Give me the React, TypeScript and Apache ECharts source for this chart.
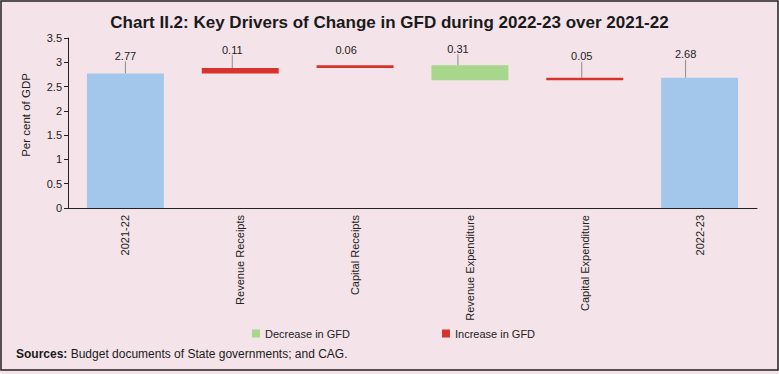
import React, { useEffect, useRef } from 'react';
import * as echarts from 'echarts';

const categories = [
  '2021-22',
  'Revenue Receipts',
  'Capital Receipts',
  'Revenue Expenditure',
  'Capital Expenditure',
  '2022-23',
];
// Level bars (per cent of GDP)
const totals: (number | null)[] = [2.77, null, null, null, null, 2.68];
// Changes that increase GFD
const increase: (number | null)[] = [null, 0.11, 0.06, null, 0.05, null];
// Changes that decrease GFD
const decrease: (number | null)[] = [null, null, null, 0.31, null, null];

const yMin = 0;
const yMax = 3.5;
const yInterval = 0.5;

// invisible base for the floating waterfall pieces
function buildBase(): (number | null)[] {
  let level = 0;
  return categories.map((_, i) => {
    if (totals[i] != null) {
      level = totals[i] as number;
      return 0;
    }
    if (increase[i] != null) {
      const b = level;
      level += increase[i] as number;
      return b;
    }
    if (decrease[i] != null) {
      level -= decrease[i] as number;
      return level;
    }
    return 0;
  });
}

// label displacement (layout only)
const labelShift: [number, number][] = [
  [0, -7],
  [-8, -8],
  [-9, -5],
  [-12, -6],
  [-3, -11],
  [-14, -13],
];
const hideLeader = [false, false, true, false, false, false];

const REG = 'Liberation Sans';

export default function App() {
  const ref = useRef<HTMLDivElement>(null);
  useEffect(() => {
    document.body.style.margin = '0';
    const chart = echarts.init(ref.current!, undefined, { renderer: 'svg' });
    const base = buildBase();
    const labelCommon = {
      show: true,
      position: 'top' as const,
      distance: 5,
      color: '#222',
      fontSize: 11,
      fontFamily: REG,
      formatter: (p: any) => (p.value == null ? '' : Number(p.value).toFixed(2)),
    };
    const labelLayout = (p: any) => ({ dx: labelShift[p.dataIndex][0], dy: labelShift[p.dataIndex][1] });
    const labelLine = { show: true, lineStyle: { color: '#8a8a8a', width: 1 } };
    const toItems = (arr: (number | null)[]) =>
      arr.map((v, i) => (v == null ? null : hideLeader[i] ? { value: v, labelLine: { show: false } } : v));
    chart.setOption({
      animation: false,
      backgroundColor: '#f4e4e9',
      textStyle: { fontFamily: REG },
      title: [
        {
          text: 'Chart II.2: Key Drivers of Change in GFD during 2022-23 over 2021-22',
          left: 'center',
          top: 9,
          textStyle: { fontSize: 17, fontWeight: 'bold', color: '#1a1a1a', fontFamily: REG },
        },
        {
          text: '{b|Sources:} Budget documents of State governments; and CAG.',
          left: 11,
          top: 343,
          textStyle: {
            fontSize: 12,
            fontWeight: 'normal',
            color: '#1a1a1a',
            fontFamily: REG,
            rich: { b: { fontWeight: 'bold', fontSize: 12, color: '#1a1a1a', fontFamily: REG } },
          },
        },
      ],
      legend: {
        data: ['Decrease in GFD', 'Increase in GFD'],
        top: 323,
        left: 247,
        itemWidth: 8,
        itemHeight: 8,
        itemGap: 92,
        icon: 'rect',
        textStyle: { fontSize: 11, color: '#222', fontFamily: REG },
      },
      grid: { left: 68, right: 22, top: 38, bottom: 166 },
      xAxis: {
        type: 'category',
        data: categories,
        axisLine: { lineStyle: { color: '#222', width: 1 } },
        axisTick: { show: false },
        axisLabel: { rotate: 90, interval: 0, fontSize: 11, color: '#222', margin: 7, fontFamily: REG },
      },
      yAxis: {
        type: 'value',
        min: yMin,
        max: yMax,
        interval: yInterval,
        name: 'Per cent of GDP',
        nameLocation: 'middle',
        nameRotate: 90,
        nameGap: 36,
        nameTextStyle: { fontSize: 11.5, color: '#222', fontFamily: REG, padding: [0, 0, 0, 16] },
        axisLine: { show: true, lineStyle: { color: '#222', width: 1 } },
        axisTick: { show: true, length: 4, lineStyle: { color: '#222' } },
        splitLine: { show: false },
        axisLabel: { fontSize: 11, color: '#222', margin: 6, fontFamily: REG },
      },
      series: [
        {
          name: 'base',
          type: 'bar',
          stack: 'w',
          data: base,
          itemStyle: { color: 'transparent' },
          silent: true,
          barWidth: '67%',
        },
        {
          name: 'Level',
          type: 'bar',
          stack: 'w',
          data: toItems(totals),
          itemStyle: { color: '#a3c7eb' },
          label: labelCommon,
          labelLayout,
          labelLine,
        },
        {
          name: 'Decrease in GFD',
          type: 'bar',
          stack: 'w',
          data: toItems(decrease),
          itemStyle: { color: '#a7d68d' },
          label: labelCommon,
          labelLayout,
          labelLine,
        },
        {
          name: 'Increase in GFD',
          type: 'bar',
          stack: 'w',
          data: toItems(increase),
          itemStyle: { color: '#d8322c' },
          label: labelCommon,
          labelLayout,
          labelLine,
        },
      ],
      graphic: [
        {
          type: 'rect',
          shape: { x: 1, y: 1, width: 777, height: 369 },
          style: { fill: 'none', stroke: '#222', lineWidth: 1.5 },
          silent: true,
        },
      ],
    });
    return () => chart.dispose();
  }, []);
  return <div ref={ref} style={{ width: 779, height: 374 }} />;
}
